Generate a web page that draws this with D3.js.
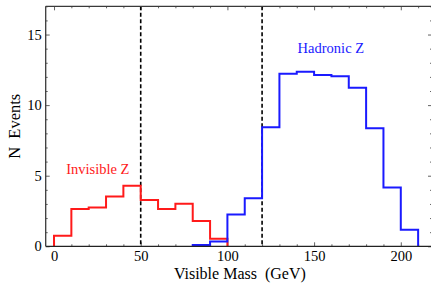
<!DOCTYPE html>
<html>
<head>
<meta charset="utf-8">
<script src="https://cdn.jsdelivr.net/npm/d3@7"></script>
<style>
  html, body { margin: 0; padding: 0; background: #fff; }
</style>
</head>
<body>
<div id="chart"></div>
<script>
// bin lower edges (GeV) and counts per 10 GeV bin
var invisibleBins = [0, 10, 20, 30, 40, 50, 60, 70, 80, 90];
var invisibleZ    = [0.75, 2.65, 2.75, 3.53, 4.29, 3.28, 2.64, 3.01, 1.8, 0.53];
var hadronicBins  = [80, 90, 100, 110, 120, 130, 140, 150, 160, 170, 180, 190, 200];
var hadronicZ     = [0.1, 0.34, 2.26, 3.4, 8.44, 12.23, 12.37, 12.14, 12.04, 11.23, 8.36, 4.17, 1.17];
var binWidth = 10;
var cuts = [50, 120];
var xTicks = [0, 50, 100, 150, 200];
var yTicks = [0, 5, 10, 15];

var FONT = "'Liberation Serif'";

var W = 431, H = 283
  , margin = {top: 6.3, left: 45.7, bottom: 36.7, right: -1}
  , pw = W - margin.left - margin.right
  , ph = H - margin.top - margin.bottom;

var x = d3.scaleLinear().domain([-4.8, 218]).range([0, pw])
  , y = d3.scaleLinear().domain([0, 17]).range([ph, 0]);

var svg = d3.select('#chart').append('svg')
    .attr('width', W).attr('height', H)
    .attr('viewBox', '0 0 ' + W + ' ' + H);

var g = svg.append('g')
    .attr('transform', 'translate(' + [margin.left, margin.top] + ')');

var frameColor = '#3a3a3a';

// minor ticks
var xMinor = d3.range(0, 220, 10).filter(function(v){ return xTicks.indexOf(v) < 0; })
  , yMinor = d3.range(0, 17.5, 1).filter(function(v){ return yTicks.indexOf(v) < 0; });

function styleAxis(sel){
    sel.attr('font-family', null).attr('font-size', null);
    sel.select('.domain').remove();
    sel.selectAll('line').attr('stroke', frameColor).attr('stroke-width', 0.8);
    sel.selectAll('text').attr('fill', '#000')
       .style('font-family', FONT).style('font-size', '14.5px');
}

g.append('g').attr('transform', 'translate(0,' + ph + ')')
  .call(d3.axisBottom(x).tickValues(xTicks).tickSize(-4).tickPadding(4).tickFormat(d3.format('d')))
  .call(styleAxis);
g.append('g').attr('transform', 'translate(0,' + ph + ')')
  .call(d3.axisBottom(x).tickValues(xMinor).tickSize(-2).tickFormat(''))
  .call(styleAxis);
g.append('g')
  .call(d3.axisTop(x).tickValues(xTicks).tickSize(-4).tickFormat(''))
  .call(styleAxis);
g.append('g')
  .call(d3.axisTop(x).tickValues(xMinor).tickSize(-2).tickFormat(''))
  .call(styleAxis);
g.append('g')
  .call(d3.axisLeft(y).tickValues(yTicks).tickSize(-4).tickPadding(4).tickFormat(d3.format('d')))
  .call(styleAxis);
g.append('g')
  .call(d3.axisLeft(y).tickValues(yMinor).tickSize(-2).tickFormat(''))
  .call(styleAxis);
g.append('g').attr('transform', 'translate(' + pw + ',0)')
  .call(d3.axisRight(y).tickValues(yTicks).tickSize(-4).tickFormat(''))
  .call(styleAxis);
g.append('g').attr('transform', 'translate(' + pw + ',0)')
  .call(d3.axisRight(y).tickValues(yMinor).tickSize(-2).tickFormat(''))
  .call(styleAxis);

// cut lines
g.selectAll('line.cut').data(cuts).enter().append('line')
  .classed('cut', true)
  .attr('x1', function(d){ return x(d); }).attr('x2', function(d){ return x(d); })
  .attr('y1', 0).attr('y2', ph)
  .attr('stroke', '#000').attr('stroke-width', 1.6)
  .attr('stroke-dasharray', '4,2.5');

// step histograms
function stepPoints(edges, vals){
    var pts = [[edges[0], 0]];
    vals.forEach(function(v, i){
        pts.push([edges[i], v]);
        pts.push([edges[i] + binWidth, v]);
    });
    pts.push([edges[edges.length - 1] + binWidth, 0]);
    return pts;
}
var line = d3.line().x(function(d){ return x(d[0]); }).y(function(d){ return y(d[1]); });

g.append('path').datum(stepPoints(invisibleBins, invisibleZ))
  .attr('d', line).attr('fill', 'none')
  .attr('stroke', '#ff1a1a').attr('stroke-width', 2);
g.append('path').datum(stepPoints(hadronicBins, hadronicZ))
  .attr('d', line).attr('fill', 'none')
  .attr('stroke', '#1a1aff').attr('stroke-width', 2);

// frame
g.append('line').attr('x1', 0).attr('x2', pw).attr('y1', 0).attr('y2', 0)
  .attr('stroke', frameColor).attr('stroke-width', 1.3);
g.append('line').attr('x1', 0).attr('x2', pw).attr('y1', ph).attr('y2', ph)
  .attr('stroke', '#222').attr('stroke-width', 1.3);
g.append('line').attr('x1', 0).attr('x2', 0).attr('y1', 0).attr('y2', ph)
  .attr('stroke', frameColor).attr('stroke-width', 1.3);

// labels
g.append('text').text('Invisible Z')
  .attr('x', x(7)).attr('y', y(5.15))
  .attr('fill', '#ff1a1a')
  .style('font-family', FONT).style('font-size', '14.5px');
g.append('text').text('Hadronic Z')
  .attr('x', x(140.5)).attr('y', y(13.7))
  .attr('fill', '#1a1aff')
  .style('font-family', FONT).style('font-size', '14.5px');

svg.append('text').text('Visible Mass\u00a0\u00a0(GeV)')
  .attr('x', margin.left + pw / 2 + 1).attr('y', 278.5)
  .attr('text-anchor', 'middle')
  .attr('fill', '#000')
  .style('font-family', FONT).style('font-size', '16px');

svg.append('text').text('N\u00a0\u00a0Events')
  .attr('text-anchor', 'middle')
  .attr('transform', 'translate(' + [19.5, margin.top + ph / 2] + ') rotate(-90)')
  .attr('fill', '#000')
  .style('font-family', FONT).style('font-size', '16.5px');
</script>
</body>
</html>
